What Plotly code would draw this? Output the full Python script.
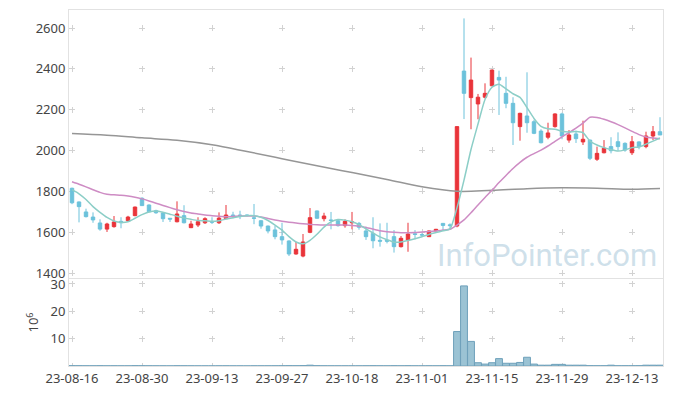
import plotly.graph_objects as go

# ---------------- data ----------------
dates = [
    "23-08-16", "23-08-17", "23-08-18", "23-08-21", "23-08-22", "23-08-23", "23-08-24", "23-08-25", "23-08-28", "23-08-29",
    "23-08-30", "23-08-31", "23-09-01", "23-09-04", "23-09-05", "23-09-06", "23-09-07", "23-09-08", "23-09-11", "23-09-12",
    "23-09-13", "23-09-14", "23-09-15", "23-09-18", "23-09-19", "23-09-20", "23-09-21", "23-09-22", "23-09-25", "23-09-26",
    "23-09-27", "23-10-04", "23-10-05", "23-10-06", "23-10-10", "23-10-11", "23-10-12", "23-10-13", "23-10-16", "23-10-17",
    "23-10-18", "23-10-19", "23-10-20", "23-10-23", "23-10-24", "23-10-25", "23-10-26", "23-10-27", "23-10-30", "23-10-31",
    "23-11-01", "23-11-02", "23-11-03", "23-11-06", "23-11-07", "23-11-08", "23-11-09", "23-11-10", "23-11-13", "23-11-14",
    "23-11-15", "23-11-16", "23-11-17", "23-11-20", "23-11-21", "23-11-22", "23-11-23", "23-11-24", "23-11-27", "23-11-28",
    "23-11-29", "23-11-30", "23-12-01", "23-12-04", "23-12-05", "23-12-06", "23-12-07", "23-12-08", "23-12-11", "23-12-12",
    "23-12-13", "23-12-14", "23-12-15", "23-12-18", "23-12-19",
]
open_p = [1815, 1748, 1699, 1674, 1645, 1615, 1627, 1653, 1656, 1681,
          1766, 1733, 1705, 1694, 1668, 1651, 1681, 1622, 1635, 1646,
          1652, 1646, 1666, 1684, 1684, 1684, 1670, 1656, 1630, 1611,
          1578, 1557, 1493, 1483, 1599, 1704, 1666, 1660, 1656, 1632,
          1646, 1643, 1606, 1594, 1560, 1560, 1578, 1529, 1562, 1592,
          1588, 1578, 1606, 1643, 1636, 1630, 2389, 2259, 2228, 2261,
          2317, 2358, 2280, 2231, 2117, 2169, 2141, 2095, 2065, 2117,
          2179, 2051, 2081, 2042, 2051, 1957, 1989, 2019, 2043, 2035,
          1989, 2042, 2019, 2071, 2092]
high_p = [1818, 1750, 1715, 1697, 1663, 1646, 1679, 1673, 1680, 1725,
          1771, 1736, 1710, 1696, 1668, 1751, 1732, 1656, 1673, 1673,
          1673, 1697, 1733, 1700, 1705, 1686, 1738, 1658, 1632, 1630,
          1646, 1560, 1553, 1591, 1718, 1706, 1695, 1699, 1663, 1663,
          1699, 1650, 1627, 1673, 1643, 1646, 1610, 1581, 1646, 1610,
          1595, 1608, 1616, 1645, 1643, 2117, 2647, 2455, 2277, 2329,
          2396, 2391, 2361, 2261, 2185, 2383, 2150, 2104, 2136, 2182,
          2185, 2100, 2097, 2146, 2053, 2019, 2051, 2065, 2089, 2040,
          2071, 2045, 2092, 2120, 2163]
low_p = [1737, 1648, 1672, 1646, 1607, 1601, 1622, 1619, 1650, 1678,
         1728, 1698, 1690, 1650, 1650, 1648, 1643, 1620, 1625, 1640,
         1640, 1640, 1664, 1668, 1664, 1677, 1639, 1617, 1594, 1565,
         1539, 1483, 1490, 1477, 1595, 1666, 1653, 1614, 1627, 1622,
         1614, 1612, 1562, 1521, 1529, 1545, 1500, 1525, 1504, 1565,
         1580, 1576, 1604, 1611, 1614, 1624, 2154, 2104, 2153, 2255,
         2315, 2174, 2207, 2027, 2048, 2087, 2080, 2035, 2055, 2112,
         2055, 2038, 2037, 2027, 1953, 1949, 1986, 1986, 1999, 1994,
         1978, 2006, 2011, 2051, 2076]
close_p = [1744, 1725, 1676, 1660, 1615, 1640, 1650, 1646, 1674, 1723,
           1730, 1700, 1695, 1666, 1664, 1689, 1646, 1640, 1651, 1666,
           1649, 1669, 1684, 1680, 1681, 1682, 1668, 1630, 1606, 1578,
           1562, 1493, 1516, 1552, 1671, 1668, 1679, 1657, 1632, 1653,
           1650, 1624, 1578, 1558, 1556, 1556, 1529, 1570, 1591, 1589,
           1586, 1606, 1614, 1633, 1632, 2117, 2280, 2345, 2261, 2280,
           2394, 2345, 2231, 2136, 2182, 2136, 2084, 2038, 2086, 2179,
           2071, 2076, 2058, 2055, 1962, 1986, 2011, 1999, 2019, 2002,
           2043, 2019, 2071, 2092, 2076]
ma5 = [1808, 1788, 1760, 1725, 1697, 1672, 1655, 1648, 1651, 1668,
       1686, 1699, 1704, 1698, 1688, 1678, 1670, 1663, 1657, 1656,
       1653, 1656, 1664, 1671, 1677, 1681, 1681, 1673, 1657, 1635,
       1610, 1578, 1552, 1543, 1560, 1590, 1625, 1650, 1662, 1659,
       1651, 1637, 1616, 1596, 1577, 1563, 1551, 1552, 1559, 1568,
       1578, 1589, 1598, 1607, 1616, 1720, 1855, 2005, 2130, 2250,
       2310, 2325, 2302, 2278, 2260, 2210, 2157, 2118, 2106, 2104,
       2094, 2091, 2093, 2087, 2046, 2027, 2014, 2004, 1997, 2003,
       2014, 2017, 2031, 2046, 2061]
ma20 = [1847, 1835, 1822, 1808, 1795, 1786, 1783, 1781, 1777, 1771,
        1763, 1753, 1742, 1731, 1720, 1710, 1701, 1694, 1689, 1684,
        1681, 1678, 1676, 1677, 1679, 1679, 1679, 1674, 1667, 1660,
        1654, 1649, 1645, 1641, 1638, 1636, 1635, 1635, 1635, 1635,
        1633, 1629, 1623, 1615, 1607, 1602, 1599, 1597, 1597, 1598,
        1601, 1603, 1606, 1610, 1614, 1635, 1660, 1695, 1733, 1770,
        1805, 1843, 1878, 1912, 1942, 1967, 1985, 2002, 2022, 2045,
        2067, 2088, 2110, 2134, 2163, 2162, 2153, 2141, 2127, 2111,
        2094, 2078, 2066, 2061, 2058]
ma120_dates = ["23-08-16", "23-08-23", "23-08-30", "23-09-06", "23-09-13", "23-09-20",
               "23-09-27", "23-10-11", "23-10-18", "23-10-25", "23-11-01", "23-11-08",
               "23-11-15", "23-11-22", "23-11-29", "23-12-06", "23-12-13", "23-12-19"]
ma120 = [2083, 2075, 2062, 2050, 2028, 1995, 1960, 1925, 1892, 1858, 1822, 1800,
         1805, 1813, 1817, 1815, 1810, 1814]
volume = [0.12, 0.10, 0.08, 0.08, 0.10, 0.07, 0.08, 0.06, 0.06, 0.12,
          0.10, 0.08, 0.06, 0.06, 0.05, 0.09, 0.08, 0.06, 0.05, 0.05,
          0.05, 0.06, 0.07, 0.05, 0.05, 0.04, 0.06, 0.06, 0.07, 0.08,
          0.10, 0.12, 0.10, 0.14, 0.30, 0.12, 0.08, 0.07, 0.06, 0.06,
          0.06, 0.06, 0.08, 0.10, 0.08, 0.07, 0.10, 0.08, 0.10, 0.07,
          0.06, 0.08, 0.07, 0.10, 0.08, 12.6, 29.3, 9.0, 1.2, 0.7,
          1.2, 2.7, 1.0, 1.0, 1.3, 3.2, 0.7, 0.3, 0.3, 0.6,
          0.6, 0.3, 0.3, 0.3, 0.12, 0.10, 0.10, 0.3, 0.10, 0.10,
          0.10, 0.12, 0.3, 0.3, 0.3]
price_ticks = [1400, 1600, 1800, 2000, 2200, 2400, 2600]
volume_ticks = [10, 20, 30]
x_ticks = dates[::10]

# ---------------- style ----------------
UP = "rgb(233,52,58)"
DOWN = "rgb(108,194,219)"
GRID = "#d2d2d2"
FRAME = "#e2e2e2"
FONT = dict(family="Noto Sans, DejaVu Sans, sans-serif", size=13, color="#444")

fig = go.Figure()
fig.add_trace(go.Candlestick(
    x=dates, open=open_p, high=high_p, low=low_p, close=close_p,
    xaxis="x", yaxis="y",
    increasing=dict(line=dict(color=UP, width=1), fillcolor=UP),
    decreasing=dict(line=dict(color=DOWN, width=1), fillcolor=DOWN),
    showlegend=False,
))
fig.add_trace(go.Scatter(x=ma120_dates, y=ma120, mode="lines", xaxis="x", yaxis="y",
                         line=dict(color="rgb(150,150,150)", width=1.5, shape="spline"),
                         showlegend=False))
fig.add_trace(go.Scatter(x=dates, y=ma20, mode="lines", xaxis="x", yaxis="y",
                         line=dict(color="rgb(206,140,196)", width=1.5, shape="spline", smoothing=0.6),
                         showlegend=False))
fig.add_trace(go.Scatter(x=dates, y=ma5, mode="lines", xaxis="x", yaxis="y",
                         line=dict(color="rgb(140,206,199)", width=1.5, shape="spline", smoothing=0.6),
                         showlegend=False))
fig.add_trace(go.Bar(x=dates, y=volume, xaxis="x2", yaxis="y2",
                     marker=dict(color="rgb(155,195,212)", line=dict(color="rgb(110,160,186)", width=1)),
                     showlegend=False))

xr = [-0.4286, len(dates) - 1 + 0.4286]
fig.update_layout(
    width=673, height=396,
    margin=dict(l=61, r=18, t=2, b=38, autoexpand=False),
    paper_bgcolor="white", plot_bgcolor="white",
    font=FONT, showlegend=False, bargap=0.02,
    xaxis=dict(type="category", range=xr, anchor="y", rangeslider=dict(visible=False),
               automargin=False,
               tickvals=x_ticks, showticklabels=False, showgrid=True, gridcolor=GRID,
               griddash="0px,15px,6px,19.833px", gridwidth=1,
               showline=True, mirror=True, linecolor=FRAME, linewidth=1, ticks=""),
    yaxis=dict(domain=[0.2472, 1], range=[1375.51, 2688.16], tickvals=price_ticks,
               automargin=False,
               showgrid=True, gridcolor=GRID, griddash="6px,64px", zeroline=False,
               showline=True, mirror=True, linecolor=FRAME, linewidth=1, ticks=""),
    xaxis2=dict(type="category", range=xr, anchor="y2", tickvals=x_ticks,
                automargin=False,
                showgrid=True, gridcolor=GRID, griddash="0px,2px,6px,19.333px",
                showline=True, mirror=True, linecolor=FRAME, linewidth=1, ticks=""),
    yaxis2=dict(domain=[0, 0.2444], range=[0, 31.83], tickvals=volume_ticks,
                automargin=False,
                showgrid=True, gridcolor=GRID, griddash="6px,64px", zeroline=False,
                showline=True, mirror=True, linecolor=FRAME, linewidth=1, ticks="",
                title=dict(text="10<sup>6</sup>", standoff=8, font=FONT)),
    annotations=[dict(text="InfoPointer.com", xref="paper", yref="paper",
                      x=0.805, y=0.31, xanchor="center", yanchor="middle", showarrow=False,
                      font=dict(family="Roboto, sans-serif", size=31,
                                color="rgba(165,198,216,0.55)"))],
)

fig.write_html("out.html")
